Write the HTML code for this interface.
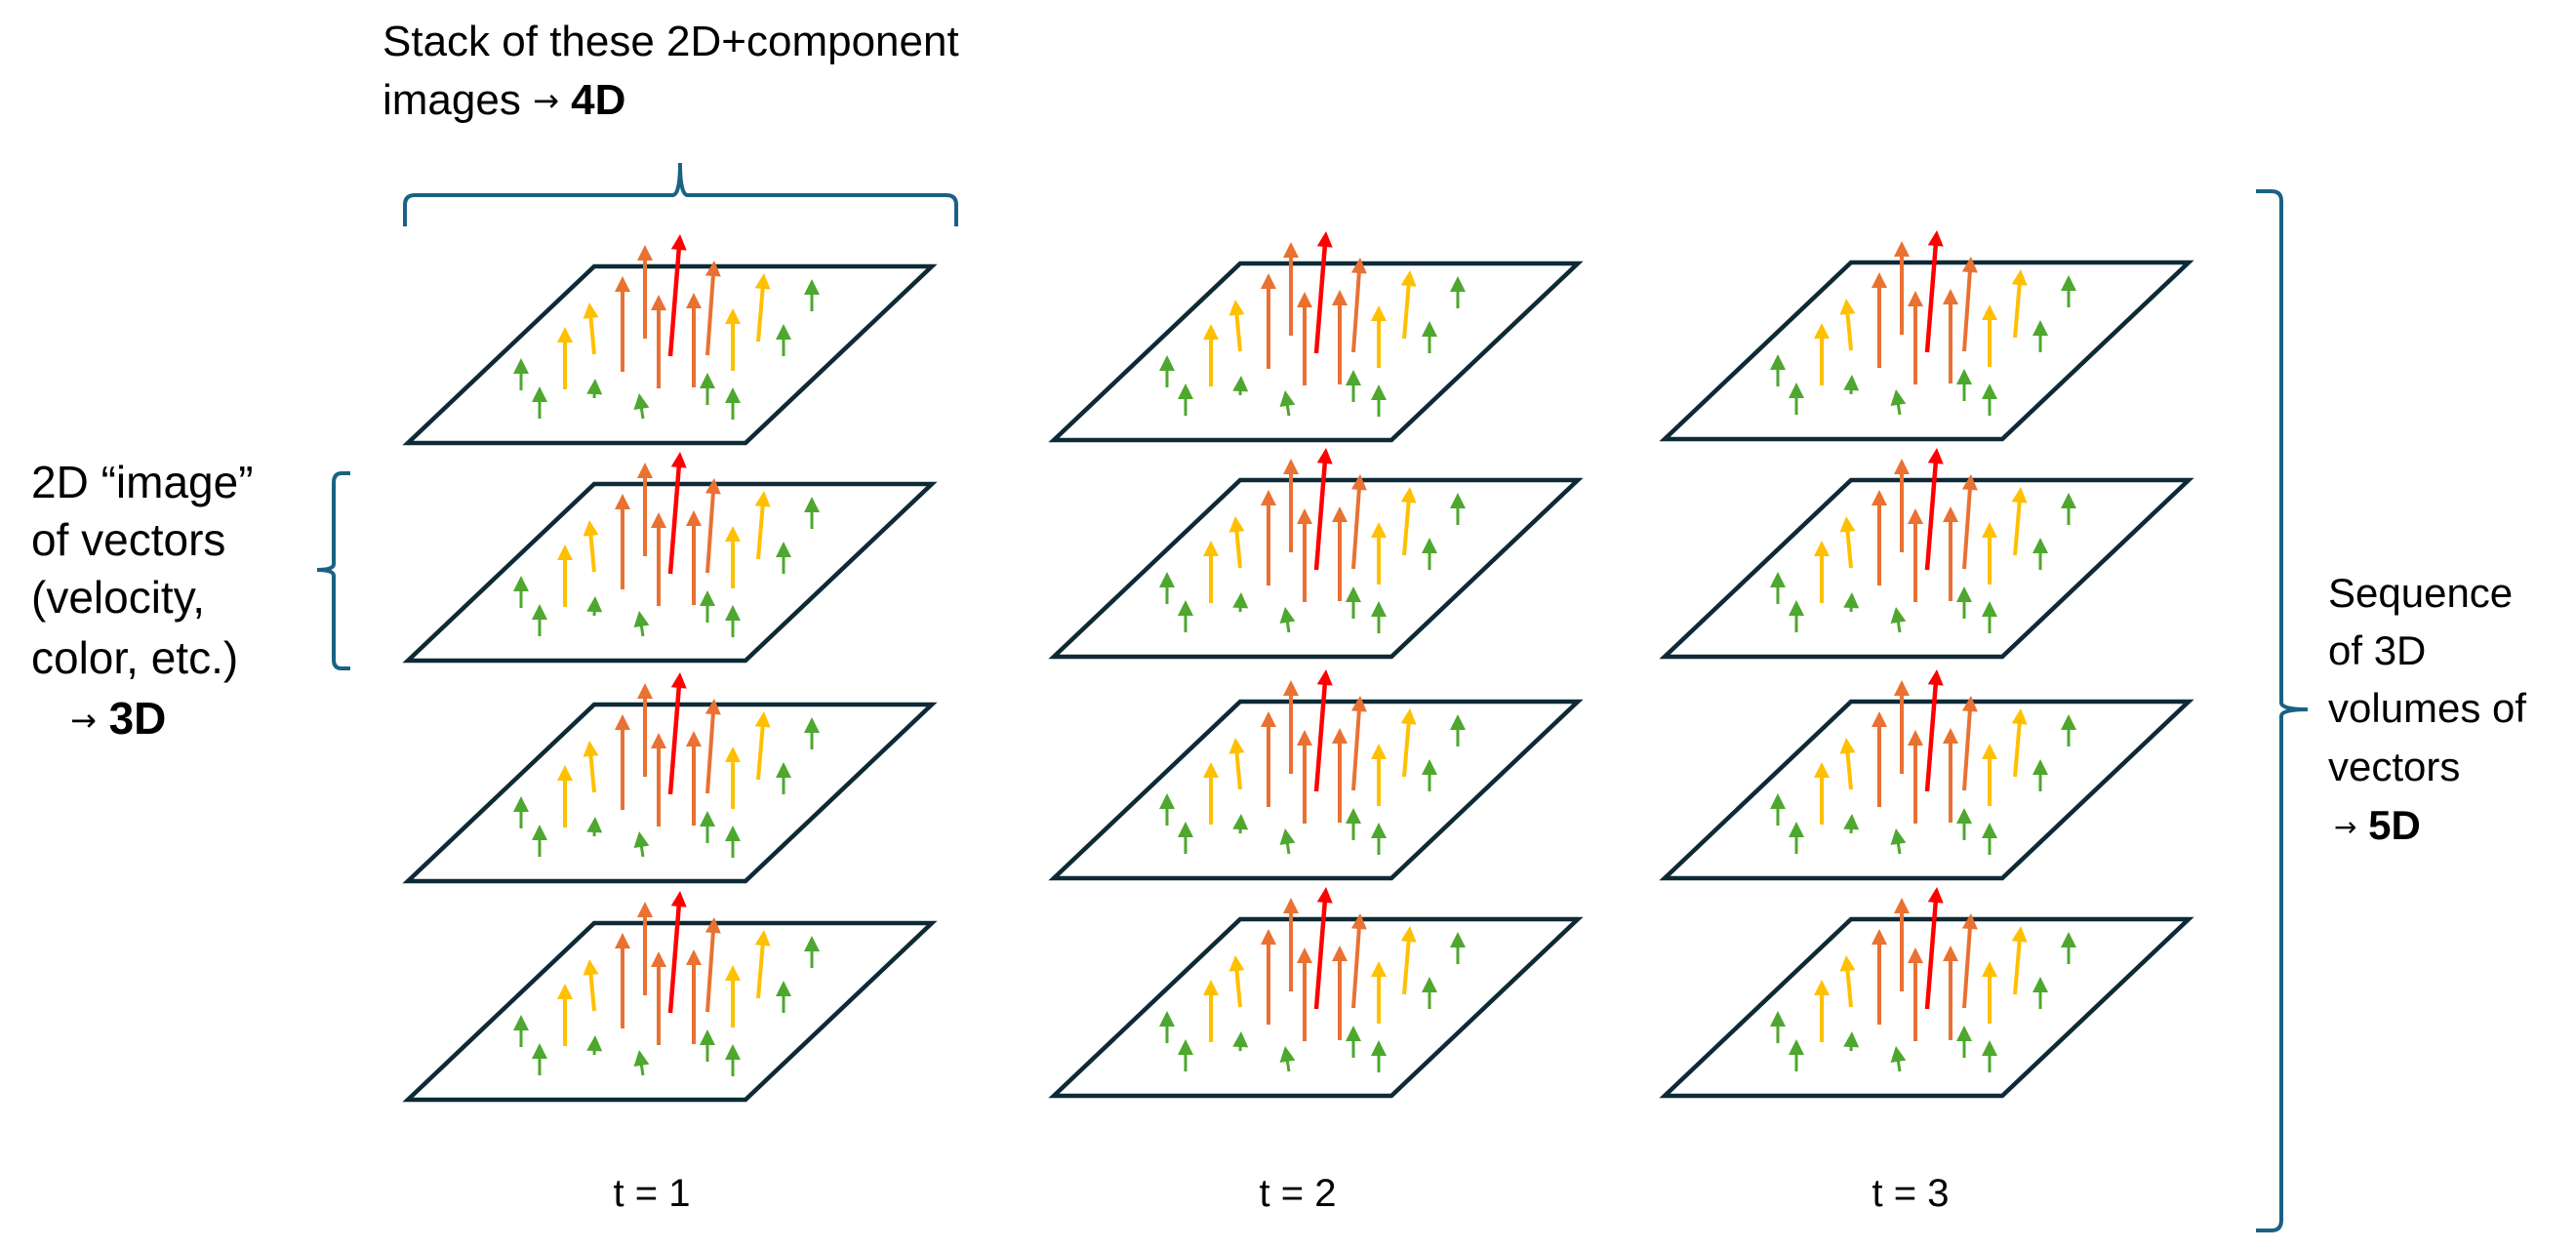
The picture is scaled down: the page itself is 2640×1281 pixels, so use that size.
<!DOCTYPE html>
<html><head><meta charset="utf-8">
<style>
html,body{margin:0;padding:0;background:#fff;}
svg{display:block;}
text{font-family:"Liberation Sans",sans-serif;fill:#000;}
</style></head>
<body>
<svg id="fig" width="2640" height="1281" viewBox="0 0 2640 1281" xmlns="http://www.w3.org/2000/svg">
  <g>
    <text x="392" y="57" font-size="44">Stack of these 2D+component</text>
    <text x="392" y="117" font-size="44">images <tspan font-family="DejaVu Sans" font-size="32" dy="-3">→</tspan> <tspan dy="3" font-weight="bold">4D</tspan></text>
  </g>
  <path d="M415,232 L415,210 Q415,200 425,200 L690,200 Q697,198 697,167 Q697,198 704,200 L970,200 Q980,200 980,210 L980,232" fill="none" stroke="#1a6184" stroke-width="4"/>
  <g font-size="46">
    <text x="32" y="510">2D “image”</text>
    <text x="32" y="569">of vectors</text>
    <text x="32" y="628">(velocity,</text>
    <text x="32" y="690">color, etc.)</text>
    <text x="72" y="752"><tspan font-family="DejaVu Sans" font-size="32" dy="-3">→</tspan> <tspan dy="3" font-weight="bold">3D</tspan></text>
  </g>
  <path d="M359,485 L350,485 Q342,485 342,495 L342,578 Q342,584 325,584 Q342,584 342,590 L342,676 Q342,685 350,685 L359,685" fill="none" stroke="#1a6184" stroke-width="4"/>
  <path d="M2312,196 L2328,196 Q2338,196 2338,206 L2338,720 Q2338,727 2365,727 Q2338,727 2338,734 L2338,1250 Q2338,1261 2328,1261 L2312,1261" fill="none" stroke="#1a6184" stroke-width="4"/>
  <g font-size="42">
    <text x="2386" y="622">Sequence</text>
    <text x="2386" y="681">of 3D</text>
    <text x="2386" y="740">volumes of</text>
    <text x="2386" y="800">vectors</text>
    <text x="2392" y="860"><tspan font-family="DejaVu Sans" font-size="28" dy="-3">→</tspan> <tspan dy="3" font-weight="bold">5D</tspan></text>
  </g>
  <g id="panels"></g>
  <g font-size="40" text-anchor="middle">
    <text x="668" y="1236">t = 1</text>
    <text x="1330" y="1236">t = 2</text>
    <text x="1958" y="1236">t = 3</text>
  </g>
</svg>
<script>
// Column top-left x positions of each panel, and row top y positions
const colX = [609, 1271, 1897];
const rowY = [[273, 496, 722, 946], [270, 492, 719, 942], [269, 492, 719, 942]];
// Arrow data relative to panel top-left: tail x/y, tip x/y, color category
const arrowTailX = [-75,-56,0,50,116,142,194,223,-30,0,142,168,29,52,66,102,116,78];
const arrowTailY = [127,156,135,156,142,157,92,46,126,90,107,77,108,74,125,124,91,92];
const arrowTipX  = [-75,-56,1,46,116,142,194,223,-30,-5,142,174,29,52,66,102,123,88];
const arrowTipY  = [94,123,115,130,109,124,59,13,62,37,43,7,10,-22,29,27,-6,-33];
const arrowKind  = ["g","g","g","g","g","g","g","g","y","y","y","y","o","o","o","o","o","r"];

const colors = {g:"#4ea72e", y:"#ffc000", o:"#e97132", r:"#ff0000"};
const widths = {g:3, y:4, o:4, r:4.5};
const NS = "http://www.w3.org/2000/svg";
const root = document.getElementById("panels");
const W = 346, SK = 191, H = 181;

for (let c = 0; c < colX.length; c++) {
  for (let r = 0; r < rowY[c].length; r++) {
    const x0 = colX[c], y0 = rowY[c][r];
    const g = document.createElementNS(NS, "g");
    
    
    const poly = document.createElementNS(NS, "polygon");
    poly.setAttribute("points", `${x0},${y0} ${x0+W},${y0} ${x0+W-SK},${y0+H} ${x0-SK},${y0+H}`);
    poly.setAttribute("fill", "#fff");
    poly.setAttribute("stroke", "#0e2a36");
    poly.setAttribute("stroke-width", "4.5");
    
    
    g.appendChild(poly);
    for (let i = 0; i < arrowKind.length; i++) {
      const tx = x0 + arrowTailX[i], ty = y0 + arrowTailY[i];
      const hx = x0 + arrowTipX[i], hy = y0 + arrowTipY[i];
      const k = arrowKind[i], col = colors[k];
      const dx = hx - tx, dy = hy - ty, len = Math.hypot(dx, dy);
      const ux = dx / len, uy = dy / len, px = -uy, py = ux;
      const hl = 16, hw = 8;
      const bx = hx - ux * hl, by = hy - uy * hl;
      const ag = document.createElementNS(NS, "g");
      
      
      const ln = document.createElementNS(NS, "line");
      ln.setAttribute("x1", tx); ln.setAttribute("y1", ty);
      ln.setAttribute("x2", bx + ux * 2); ln.setAttribute("y2", by + uy * 2);
      ln.setAttribute("stroke", col); ln.setAttribute("stroke-width", widths[k]);
      ag.appendChild(ln);
      const hd = document.createElementNS(NS, "polygon");
      hd.setAttribute("points", `${hx},${hy} ${bx+px*hw},${by+py*hw} ${bx-px*hw},${by-py*hw}`);
      hd.setAttribute("fill", col);
      ag.appendChild(hd);
      g.appendChild(ag);
    }
    root.appendChild(g);
  }
}
</script>
</body></html>
